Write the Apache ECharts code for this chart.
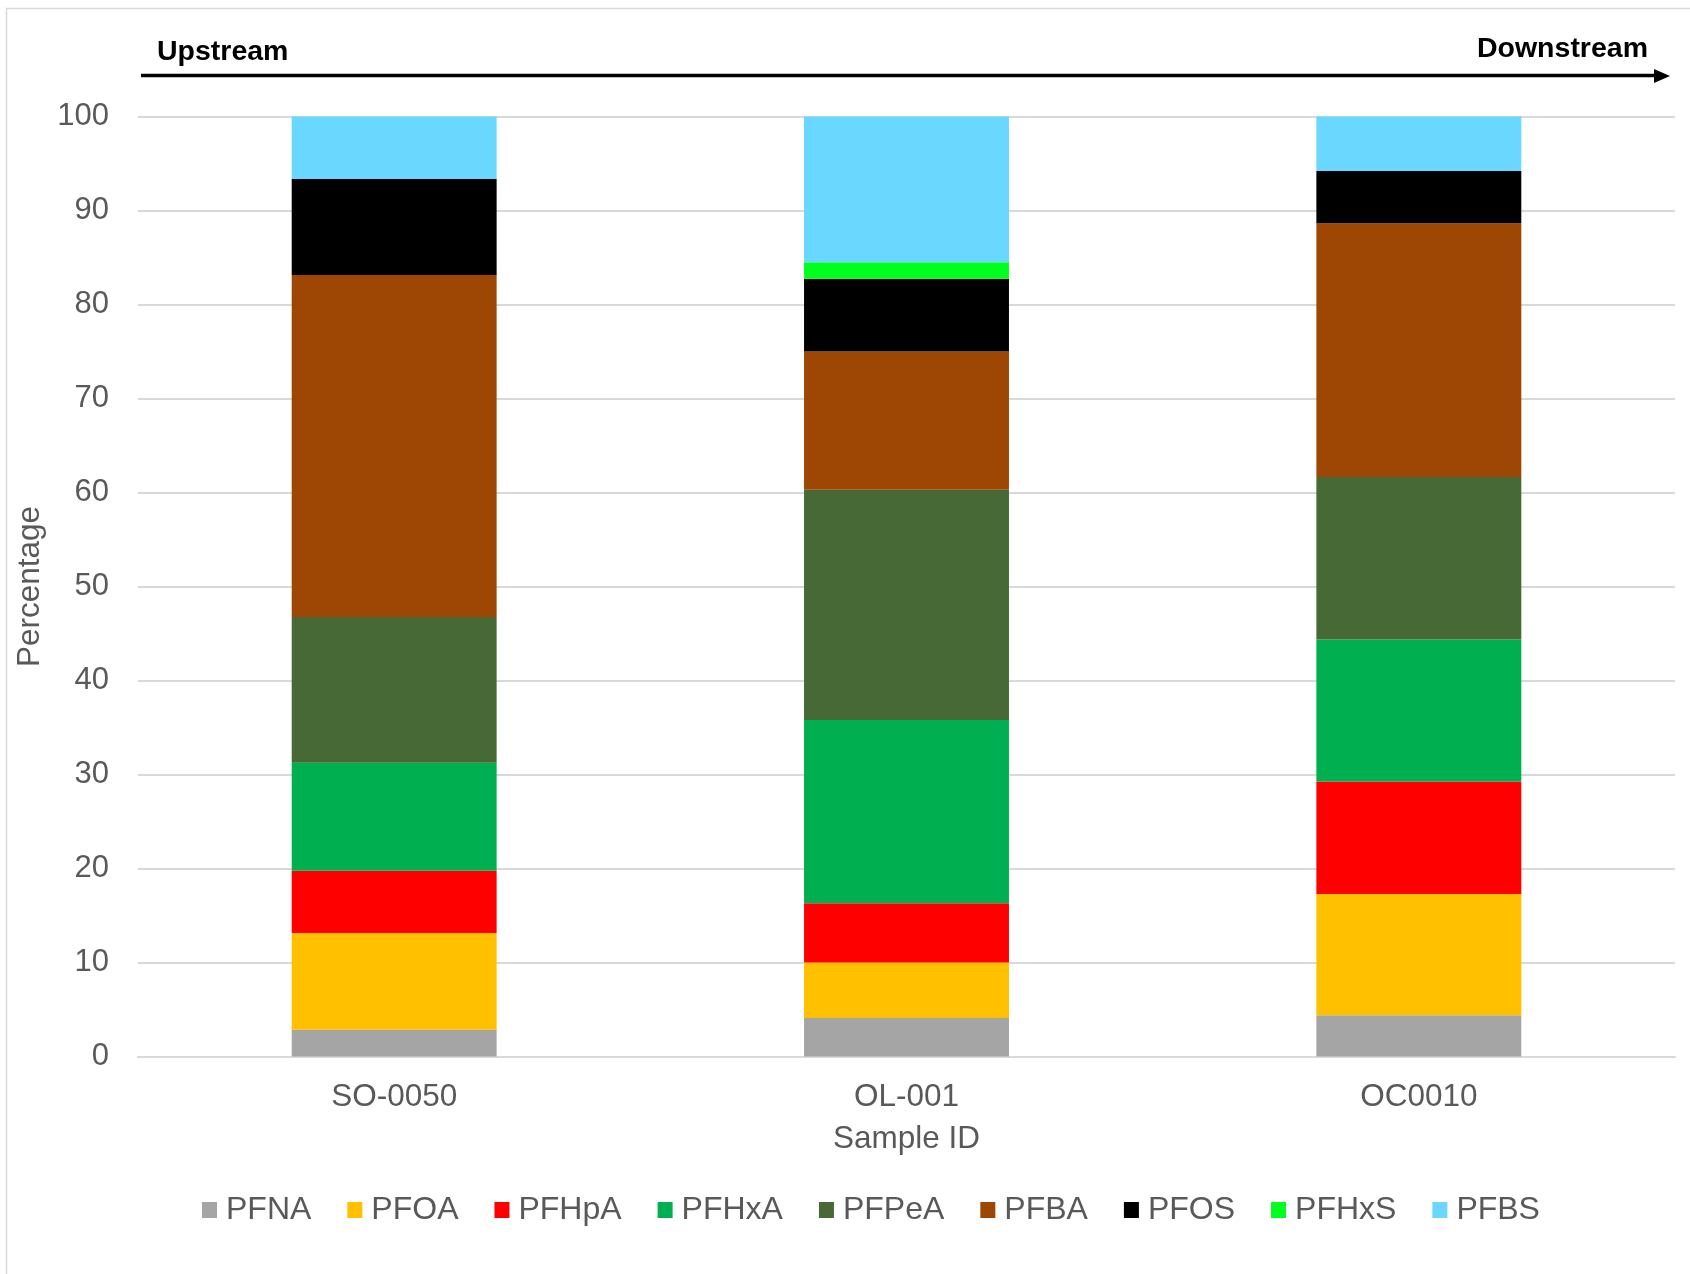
<!DOCTYPE html>
<html>
<head>
<meta charset="utf-8">
<title>PFAS composition by sample</title>
<script src="https://cdn.jsdelivr.net/npm/echarts@6/dist/echarts.min.js"></script>
<style>
  html, body { margin: 0; padding: 0; background: #ffffff; }
  #chart { width: 1690px; height: 1274px; }
</style>
</head>
<body>
<div id="chart"></div>
<script>
// Sample sites, ordered from upstream to downstream
const samples = ['SO-0050', 'OL-001', 'OC0010'];

// Percentage contribution of each compound at each site
const PFNA  = [2.85, 4.1, 4.4];
const PFOA  = [10.3, 5.9, 12.9];
const PFHpA = [6.6, 6.3, 11.95];
const PFHxA = [11.5, 19.5, 15.1];
const PFPeA = [15.5, 24.5, 17.3];
const PFBA  = [36.4, 14.7, 27.0];
const PFOS  = [10.2, 7.75, 5.55];
const PFHxS = [0, 1.75, 0];
const PFBS  = [6.65, 15.5, 5.8];

const compoundNames = ['PFNA', 'PFOA', 'PFHpA', 'PFHxA', 'PFPeA', 'PFBA', 'PFOS', 'PFHxS', 'PFBS'];
const compoundValues = [PFNA, PFOA, PFHpA, PFHxA, PFPeA, PFBA, PFOS, PFHxS, PFBS];
const compoundColors = ['#a5a5a5', '#ffc000', '#ff0000', '#00b050', '#466936',
                        '#9e4603', '#000000', '#00ff1e', '#69d7ff'];

const yTicks = { min: 0, max: 100, step: 10 };

const FONT = 'Liberation Sans, Arial, sans-serif';
const GREY_TEXT = '#595959';

const chart = echarts.init(document.getElementById('chart'), null, { renderer: 'canvas' });

const series = compoundNames.map((name, i) => ({
  name: name,
  type: 'bar',
  stack: 'total',
  barWidth: '40%',
  data: compoundValues[i],
  itemStyle: { color: compoundColors[i] },
  emphasis: { disabled: true }
}));

chart.setOption({
  animation: false,
  backgroundColor: '#ffffff',
  textStyle: { fontFamily: FONT },
  grid: { left: 138, right: 15, top: 116.5, bottom: 217.5, containLabel: false },
  legend: {
    data: compoundNames,
    left: 197,
    top: 1189,
    icon: 'rect',
    itemWidth: 15,
    itemHeight: 16,
    itemGap: 36,
    textStyle: { fontFamily: FONT, fontSize: 32, color: GREY_TEXT, padding: [0, 0, 0, 4] },
    selectedMode: false
  },
  xAxis: {
    type: 'category',
    data: samples,
    name: 'Sample ID',
    nameLocation: 'middle',
    nameGap: 67,
    nameTextStyle: { fontFamily: FONT, fontSize: 31.5, color: GREY_TEXT },
    axisLine: { lineStyle: { color: '#d9d9d9', width: 2 } },
    axisTick: { show: false },
    axisLabel: { fontFamily: FONT, fontSize: 31.5, color: GREY_TEXT, margin: 25 }
  },
  yAxis: {
    type: 'value',
    min: yTicks.min,
    max: yTicks.max,
    interval: yTicks.step,
    name: 'Percentage',
    nameLocation: 'middle',
    nameGap: 89,
    nameRotate: 90,
    nameTextStyle: { fontFamily: FONT, fontSize: 31.5, color: GREY_TEXT },
    axisLine: { show: false },
    axisTick: { show: false },
    axisLabel: { fontFamily: FONT, fontSize: 31, color: GREY_TEXT, margin: 29 },
    splitLine: { lineStyle: { color: '#d9d9d9', width: 2 } }
  },
  series: series,
  graphic: [
    {
      type: 'rect',
      silent: true,
      shape: { x: 6.5, y: 8.5, width: 1720, height: 1320 },
      style: { fill: 'none', stroke: '#d9d9d9', lineWidth: 1.5 }
    },
    {
      type: 'line',
      silent: true,
      shape: { x1: 141, y1: 75.5, x2: 1656, y2: 75.5 },
      style: { stroke: '#000000', lineWidth: 3.5 }
    },
    {
      type: 'polygon',
      silent: true,
      shape: { points: [[1654, 69], [1670, 76], [1654, 83]] },
      style: { fill: '#000000' }
    },
    {
      type: 'text',
      silent: true,
      x: 157,
      y: 52,
      style: {
        text: 'Upstream',
        font: 'bold 28.5px ' + FONT,
        fill: '#000000',
        textAlign: 'left',
        textVerticalAlign: 'middle'
      }
    },
    {
      type: 'text',
      silent: true,
      x: 1648,
      y: 49.5,
      style: {
        text: 'Downstream',
        font: 'bold 28.5px ' + FONT,
        fill: '#000000',
        textAlign: 'right',
        textVerticalAlign: 'middle'
      }
    }
  ]
});
</script>
</body>
</html>
